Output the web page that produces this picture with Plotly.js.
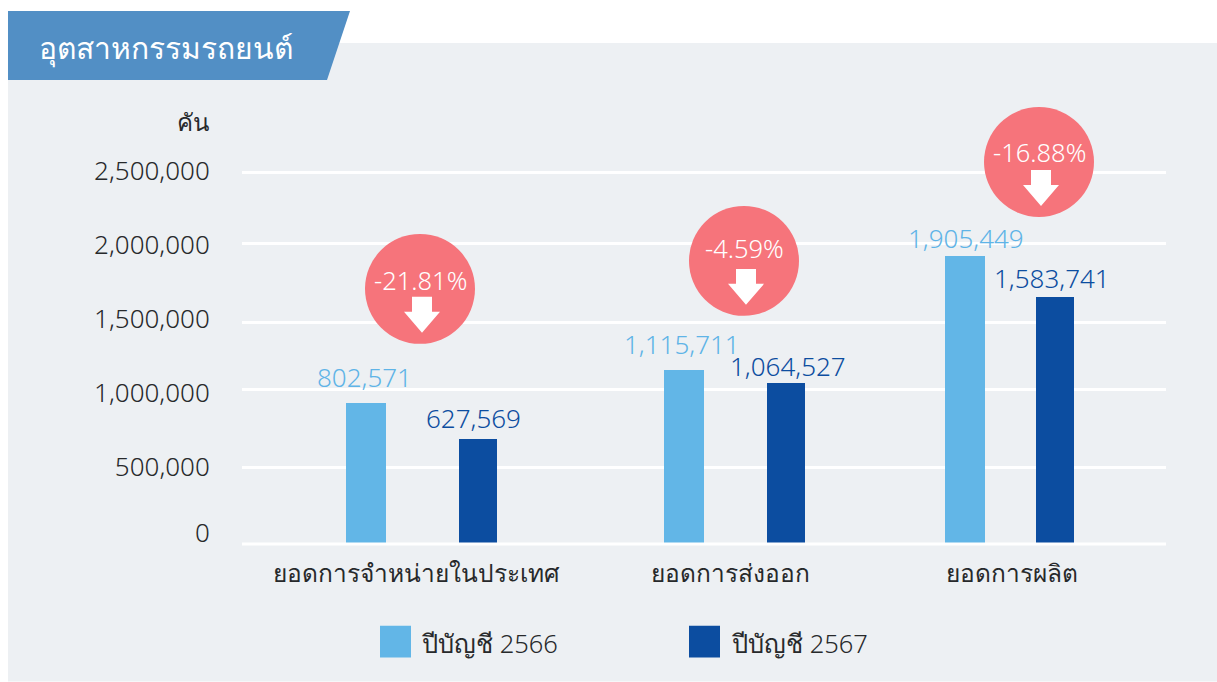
<!DOCTYPE html>
<html>
<head>
<meta charset="utf-8">
<script src="https://cdn.plot.ly/plotly-3.0.1.min.js"></script>
<style>html,body{margin:0;padding:0;background:#fff}#c{width:1217px;height:682px}</style>
</head>
<body>
<div id="c"></div>
<script>
// ---- data ----
const chartTitle = 'อุตสาหกรรมรถยนต์';
const unitLabel = 'คัน';
const categories = ['ยอดการจำหน่ายในประเทศ', 'ยอดการส่งออก', 'ยอดการผลิต'];
const seriesNames = ['ปีบัญชี 2566', 'ปีบัญชี 2567'];
const labels2566 = [802571, 1115711, 1905449];
const labels2567 = [627569, 1064527, 1583741];
// bar heights as drawn in the reference, read against its scale
const heights2566 = [950000, 1169000, 1935000];
const heights2567 = [708000, 1082000, 1660000];
const changes = ['-21.81%', '-4.59%', '-16.88%'];
const axisTicks = ['0', '500,000', '1,000,000', '1,500,000', '2,000,000', '2,500,000'];
const gridValues = [0, 517000, 1037000, 1492000, 2023000, 2500000];
const axisLabelValues = [76000, 519500, 1016800, 1514000, 2011000, 2508000];

// ---- layout constants (pixels on the 1217x682 page) ----
const W = 1217, H = 682;
const plot = {l: 242, r: 1166, t: 100, b: 544.3};
const pxPerUnitY = 148.8e-6;
const pxPerCat = 298, cat0Px = 416;
const light = '#62b6e7', dark = '#0c4da0', ink = '#27292b', panel = '#edf0f3', red = '#f6747b';
const font = '"Noto Sans", "Open Sans", sans-serif';
const thin = 300;

const catOf = px => (px - cat0Px) / pxPerCat;
const catCentre = i => cat0Px + i * pxPerCat;
const px = x => (x - plot.l) / (plot.r - plot.l);
const py = y => (plot.b - y) / (plot.b - plot.t);

const left2566 = [346, 664, 945], width2566 = 40;
const left2567 = [459, 767, 1036], width2567 = 38;
const labelCx2566 = [364, 682, 966], labelCy2566 = [377, 344, 238];
const labelCx2567 = [473, 788, 1052], labelCy2567 = [418, 366, 278];
const circles = [{x: 420, y: 289, ty: 280, ax: 422, ay: 297}, {x: 744, y: 261, ty: 248, ax: 746, ay: 269}, {x: 1039, y: 162, ty: 152, ax: 1041, ay: 170}];

const traces = [
  {type: 'bar', name: seriesNames[0], x: categories, y: heights2566,
   offset: left2566.map((l, i) => (l - catCentre(i)) / pxPerCat),
   width: left2566.map(() => width2566 / pxPerCat),
   marker: {color: light}, hoverinfo: 'skip'},
  {type: 'bar', name: seriesNames[1], x: categories, y: heights2567,
   offset: left2567.map((l, i) => (l - catCentre(i)) / pxPerCat),
   width: left2567.map(() => width2567 / pxPerCat),
   marker: {color: dark}, hoverinfo: 'skip'},
  // invisible carrier for the gridline axis
  {type: 'scatter', mode: 'none', x: categories, y: gridValues.slice(0, 3), yaxis: 'y2', showlegend: false, hoverinfo: 'skip'}
];

const shapes = [];
const annotations = [];
const rect = (x0, y0, x1, y1, color) => shapes.push({type: 'rect', xref: 'paper', yref: 'paper', layer: 'below',
  x0: px(x0), x1: px(x1), y0: py(y0), y1: py(y1), fillcolor: color, line: {width: 0}});
const note = (text, xPx, yPx, size, color, anchor) => annotations.push({text, xref: 'paper', yref: 'paper',
  x: px(xPx), y: py(yPx), xanchor: anchor || 'center', yanchor: 'middle', showarrow: false,
  font: {family: font, size, color, weight: thin}});
const fmt = v => v.toLocaleString('en-US');

// panel and header
rect(8, 43, W, H, panel);
const hx = v => px(v).toFixed(5), hy = v => py(v).toFixed(5);
shapes.push({type: 'path', xref: 'paper', yref: 'paper', layer: 'below', fillcolor: '#528fc5', line: {width: 0},
  path: `M${hx(8)},${hy(11)} L${hx(350)},${hy(11)} L${hx(327)},${hy(80)} L${hx(8)},${hy(80)} Z`});

// baseline (paper-referenced so the 3px stroke is not clipped at the plot edge)
shapes.push({type: 'line', xref: 'paper', yref: 'paper', layer: 'above', x0: 0, x1: 1, y0: 0, y1: 0, line: {color: '#fff', width: 3}});

// value labels
labels2566.forEach((v, i) => note(fmt(v), labelCx2566[i], labelCy2566[i], 26, '#5fb4e7'));
labels2567.forEach((v, i) => note(fmt(v), labelCx2567[i], labelCy2567[i], 26, '#0c4da0'));

// change badges
circles.forEach((c, i) => {
  shapes.push({type: 'circle', xref: 'paper', yref: 'paper', layer: 'above', fillcolor: red, line: {width: 0},
    x0: px(c.x - 55), x1: px(c.x + 55), y0: py(c.y + 55), y1: py(c.y - 55)});
  const a = c.ax, t = c.ay;
  shapes.push({type: 'path', xref: 'paper', yref: 'paper', layer: 'above', fillcolor: '#fff', line: {width: 0},
    path: `M${hx(a - 10)},${hy(t)} L${hx(a + 10)},${hy(t)} L${hx(a + 10)},${hy(t + 15)} L${hx(a + 18)},${hy(t + 15)} L${hx(a)},${hy(t + 36)} L${hx(a - 18)},${hy(t + 15)} L${hx(a - 10)},${hy(t + 15)} Z`});
  note(changes[i], c.x, c.ty, 25.5, '#fff');
});

// unit and legend
note(unitLabel, 211, 122, 24, ink, 'right');
rect(380, 626, 411, 658, light);
rect(689, 626, 720, 658, dark);
note(seriesNames[0], 420, 643, 25.5, ink, 'left');
note(seriesNames[1], 730, 643, 25.5, ink, 'left');

const yMax = (plot.b - plot.t) / pxPerUnitY;
const layout = {
  width: W, height: H,
  paper_bgcolor: '#fff', plot_bgcolor: 'rgba(0,0,0,0)',
  margin: {l: plot.l, r: W - plot.r, t: plot.t, b: H - plot.b, pad: 0},
  showlegend: false,
  title: {text: chartTitle, x: 39 / W, xanchor: 'left', xref: 'container', y: 1 - 48 / H, yanchor: 'middle', yref: 'container',
    font: {family: font, size: 30, color: '#fff', weight: thin}},
  xaxis: {type: 'category', categoryorder: 'array', categoryarray: categories,
    range: [catOf(plot.l), catOf(plot.r)], fixedrange: true,
    tickmode: 'array', tickvals: [0, catOf(730), 2], ticktext: categories,
    ticks: 'outside', ticklen: 8, tickcolor: 'rgba(0,0,0,0)',
    showgrid: false, zeroline: false, showline: false,
    tickfont: {family: font, size: 24.5, color: ink, weight: thin}},
  yaxis: {range: [0, yMax], fixedrange: true, tickmode: 'array', tickvals: axisLabelValues, ticktext: axisTicks,
    ticks: 'outside', ticklen: 26, tickcolor: 'rgba(0,0,0,0)',
    showgrid: false, zeroline: false, showline: false,
    tickfont: {family: font, size: 26, color: ink, weight: thin}},
  yaxis2: {range: [0, yMax], overlaying: 'y', side: 'right', fixedrange: true, tickmode: 'array', tickvals: gridValues,
    showticklabels: false, ticks: '', showgrid: true, gridcolor: '#ffffff', gridwidth: 3, zeroline: false, showline: false},
  shapes, annotations,
  bargap: 0
};
Plotly.newPlot('c', traces, layout, {displayModeBar: false, staticPlot: true});
</script>
</body>
</html>
